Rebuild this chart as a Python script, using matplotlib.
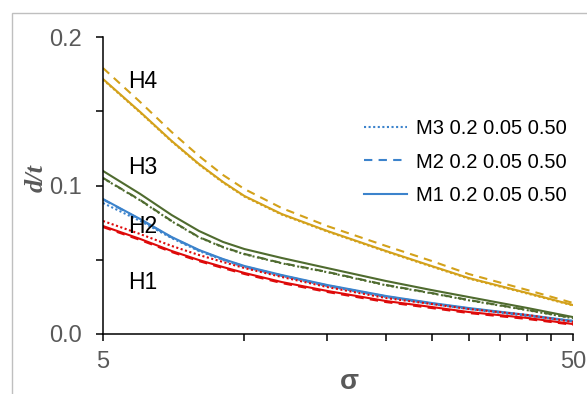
import matplotlib
matplotlib.use("Agg")
import matplotlib.pyplot as plt
from matplotlib.ticker import NullFormatter, FixedLocator
from matplotlib.lines import Line2D
from matplotlib.patches import Rectangle

plt.rcParams['font.family'] = ['Liberation Sans', 'DejaVu Sans']

sigma = [5, 6, 7, 8, 9, 10, 12, 15, 20, 25, 30, 40, 50]

h4_m1 = [0.1717, 0.1495, 0.1300, 0.1145, 0.1024, 0.0929, 0.0808, 0.0694, 0.0559, 0.0458, 0.0377, 0.0276, 0.0195]
h4_m2 = [0.1791, 0.1562, 0.1360, 0.1199, 0.1071, 0.0976, 0.0848, 0.0727, 0.0593, 0.0492, 0.0404, 0.0296, 0.0209]
h4_m3 = [0.1713, 0.1491, 0.1296, 0.1141, 0.1020, 0.0925, 0.0804, 0.0690, 0.0555, 0.0454, 0.0373, 0.0272, 0.0192]

h3_m1 = [0.1098, 0.0943, 0.0801, 0.0694, 0.0620, 0.0572, 0.0512, 0.0444, 0.0357, 0.0296, 0.0249, 0.0175, 0.0114]
h3_m2 = [0.1051, 0.0902, 0.0761, 0.0653, 0.0586, 0.0539, 0.0478, 0.0418, 0.0330, 0.0276, 0.0229, 0.0162, 0.0108]
h3_m3 = [0.1049, 0.0900, 0.0759, 0.0651, 0.0584, 0.0537, 0.0476, 0.0416, 0.0328, 0.0274, 0.0227, 0.0160, 0.0106]

h2_m1 = [0.0909, 0.0774, 0.0653, 0.0566, 0.0505, 0.0458, 0.0397, 0.0330, 0.0256, 0.0209, 0.0175, 0.0128, 0.0088]
h2_m2 = [0.0906, 0.0771, 0.0650, 0.0563, 0.0502, 0.0455, 0.0394, 0.0327, 0.0253, 0.0206, 0.0172, 0.0125, 0.0085]
h2_m3 = [0.0882, 0.0761, 0.0646, 0.0559, 0.0498, 0.0451, 0.0391, 0.0323, 0.0249, 0.0202, 0.0168, 0.0121, 0.0088]

h1_m1 = [0.0727, 0.0640, 0.0559, 0.0498, 0.0451, 0.0411, 0.0350, 0.0290, 0.0222, 0.0182, 0.0148, 0.0108, 0.0067]
h1_m2 = [0.0720, 0.0633, 0.0552, 0.0491, 0.0444, 0.0404, 0.0343, 0.0283, 0.0215, 0.0175, 0.0141, 0.0101, 0.0062]
h1_m3 = [0.0761, 0.0673, 0.0593, 0.0532, 0.0485, 0.0444, 0.0384, 0.0316, 0.0242, 0.0202, 0.0168, 0.0128, 0.0081]

group_labels = ['H4', 'H3', 'H2', 'H1']
legend_labels = ['M3 0.2 0.05 0.50', 'M2 0.2 0.05 0.50', 'M1 0.2 0.05 0.50']

GOLD = '#D3A11A'
GREEN = '#4F6B2F'
BLUE = '#3C83CC'
RED = '#DE0A0A'

DOT = (0, (1, 1.2))
DASH = (0, (4, 3))

fig = plt.figure(figsize=(5.87, 3.94), dpi=100)
ax = fig.add_axes([103/587, 1-334/394, 470/587, 297/394])

groups = [
    (h4_m1, h4_m2, h4_m3, GOLD),
    (h3_m1, h3_m2, h3_m3, GREEN),
    (h2_m1, h2_m2, h2_m3, BLUE),
    (h1_m1, h1_m2, h1_m3, RED),
]
lw = 1.5
for m1, m2, m3, c in groups:
    ax.plot(sigma, m1, color=c, lw=lw, ls='-')
    ax.plot(sigma, m2, color=c, lw=lw, ls=DASH)
    ax.plot(sigma, m3, color=c, lw=lw, ls=DOT)

ax.set_xscale('log')
ax.set_xlim(5, 50)
ax.set_ylim(0, 0.2)

ax.xaxis.set_major_locator(FixedLocator([5, 50]))
ax.set_xticklabels(['5', '50'])
ax.xaxis.set_minor_locator(FixedLocator([10, 15, 20, 25, 30, 35, 40, 45]))
ax.xaxis.set_minor_formatter(NullFormatter())

ax.yaxis.set_major_locator(FixedLocator([0, 0.1, 0.2]))
ax.set_yticklabels(['0.0', '0.1', '0.2'])
ax.yaxis.set_minor_locator(FixedLocator([0.05, 0.15]))
ax.yaxis.set_minor_formatter(NullFormatter())

for s in ['top', 'right']:
    ax.spines[s].set_visible(False)
for s in ['left', 'bottom']:
    ax.spines[s].set_linewidth(1.1)
    ax.spines[s].set_color('black')

ax.tick_params(axis='both', which='both', direction='out', length=5, width=1.1, color='black')
ax.tick_params(axis='y', which='major', labelsize=17, labelcolor='#595959', pad=10)
ax.tick_params(axis='x', which='major', labelsize=17, labelcolor='#595959', pad=7)

# group labels
label_y = [0.1697, 0.1118, 0.0727, 0.035]
for t, yy in zip(group_labels, label_y):
    ax.text(5.65, yy, t, fontsize=16.5, color='black', ha='left', va='center')

handles = [
    Line2D([], [], color=BLUE, lw=lw, ls=DOT),
    Line2D([], [], color=BLUE, lw=lw, ls=DASH),
    Line2D([], [], color=BLUE, lw=lw, ls='-'),
]
leg = fig.legend(handles, legend_labels, loc='center left',
                 bbox_to_anchor=(364/587, 1-162/394), frameon=False,
                 fontsize=14.5, handlelength=2.15, handletextpad=0.45,
                 labelspacing=0.72, borderaxespad=0, borderpad=0)

fig.text(349/587, 5/394, 'σ', fontsize=20, fontweight='bold', color='#595959',
         ha='center', va='baseline')
fig.text(36/587, 1-178/394, 'd/t', fontsize=19, fontweight='bold', fontstyle='italic',
         family=['Liberation Serif', 'DejaVu Serif'], color='#595959',
         rotation=90, ha='center', va='center')

rect = Rectangle((12/587, -0.2), 2, 1.2 - 13/394, transform=fig.transFigure,
                 fill=False, edgecolor='#BFBFBF', lw=1, clip_on=False)
fig.patches.append(rect)

fig.savefig('out.png', dpi=100)
